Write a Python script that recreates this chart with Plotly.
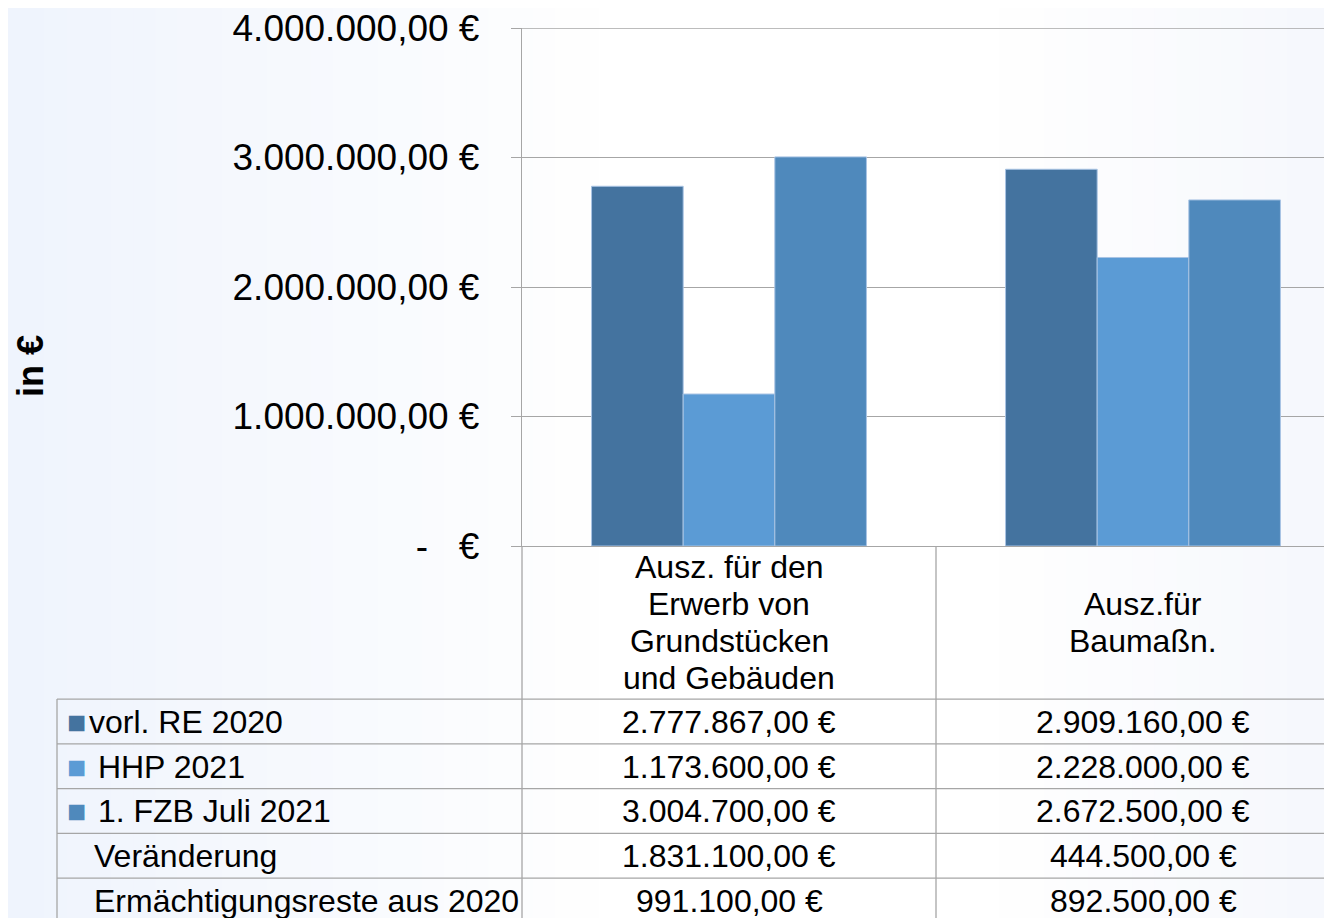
import numpy as np
import plotly.graph_objects as go

# data
categories = ["Ausz. für den\nErwerb von\nGrundstücken\nund Gebäuden", "Ausz.für\nBaumaßn."]
series_names = ["vorl. RE 2020", " HHP 2021", " 1. FZB Juli 2021"]
vorl_re_2020 = [2777867.00, 2909160.00]
hhp_2021 = [1173600.00, 2228000.00]
fzb_juli_2021 = [3004700.00, 2672500.00]
extra_row_names = ["Veränderung", "Ermächtigungsreste aus 2020"]
veraenderung = [1831100.00, 444500.00]
ermaechtigungsreste = [991100.00, 892500.00]
y_tickvals = [0, 1000000, 2000000, 3000000, 4000000]
y_ticktext = ["-\u00a0\u00a0\u00a0€", "1.000.000,00 €", "2.000.000,00 €", "3.000.000,00 €", "4.000.000,00 €"]

colors = ["#44739F", "#5B9BD5", "#4F89BC"]
FONT = "Liberation Sans, Arial, sans-serif"

# page body has an 8px margin, so the figure is made smaller and shifted
OFF = 8
W, H = 1332 - OFF, 918 - OFF
L, R, T, B = 522 - OFF, 0, 25 - OFF, 372
PW, PH = W - L - R, H - T - B


def px(x):
    # screen x -> paper x
    return (x - OFF - L) / PW


def py(y):
    # screen y -> paper y
    return (H - B - (y - OFF)) / PH


def euro(v):
    s = f"{v:,.2f}".replace(",", "X").replace(".", ",").replace("X", ".")
    return s + " €"


fig = go.Figure()
for name, vals, col in zip(series_names, [vorl_re_2020, hhp_2021, fzb_juli_2021], colors):
    fig.add_trace(go.Bar(x=categories, y=vals, name=name.strip(),
                         marker=dict(color=col, line=dict(color="#A9C4E4", width=1))))

shapes = []
# soft background gradient
edges = np.linspace(0, 1332, 61)
for a, b in zip(edges[:-1], edges[1:]):
    m = (a + b) / 2
    if m < 600:
        t = 1 - m / 600
        c = (int(255 - 16 * t), int(255 - 11 * t), int(255 - 2 * t))
    elif m > 1000:
        t = (m - 1000) / 332
        c = (int(255 - 9 * t), int(255 - 7 * t), int(255 - 2 * t))
    else:
        c = (255, 255, 255)
    shapes.append(dict(type="rect", xref="paper", yref="paper", x0=px(a), x1=px(b) + 0.002,
                       y0=py(930), y1=py(0), fillcolor=f"rgb{c}", line=dict(width=0), layer="below"))

grey = "#A6A6A6"
# top gridline (plotly skips the one at the range edge)
shapes.append(dict(type="line", xref="paper", yref="y", x0=0, x1=1,
                   y0=y_tickvals[-1], y1=y_tickvals[-1], line=dict(color=grey, width=1.3)))
row_lines = [700, 745, 790, 835, 880]
for yy in row_lines:
    shapes.append(dict(type="line", xref="paper", yref="paper", x0=px(57), x1=px(1340),
                       y0=py(yy), y1=py(yy), line=dict(color=grey, width=1.3)))
for xx, ytop in [(57, 700), (522, 546), (936, 546)]:
    shapes.append(dict(type="line", xref="paper", yref="paper", x0=px(xx), x1=px(xx),
                       y0=py(ytop), y1=py(930), line=dict(color=grey, width=1.3)))

annotations = []
# category header cells
for cat in categories:
    lines = cat.split("\n")
    n = len(lines)
    for i, ln in enumerate(lines):
        yc = 623 + (i - (n - 1) / 2) * 37
        annotations.append(dict(x=cat, xref="x", y=py(yc), yref="paper", text=ln, showarrow=False,
                                xanchor="center", yanchor="middle", font=dict(size=32, color="black")))

rows = list(zip(series_names, [vorl_re_2020, hhp_2021, fzb_juli_2021], colors)) + \
    [(n, v, None) for n, v in zip(extra_row_names, [veraenderung, ermaechtigungsreste])]
for r, (name, vals, col) in enumerate(rows):
    yc = 723 + r * 45
    if col:
        label = f"<span style='color:{col}'>■</span>\u200a{name}"
        x0 = 65
    else:
        label = name
        x0 = 92
    annotations.append(dict(x=px(x0), xref="paper", y=py(yc), yref="paper", text=label,
                            showarrow=False, xanchor="left", yanchor="middle",
                            font=dict(size=32, color="black")))
    for cat, v in zip(categories, vals):
        annotations.append(dict(x=cat, xref="x", y=py(yc), yref="paper", text=euro(v),
                                showarrow=False, xanchor="center", yanchor="middle",
                                font=dict(size=32, color="black")))

annotations.append(dict(x=px(30), xref="paper", y=py(365), yref="paper", text="<b>in €</b>",
                        textangle=-90, showarrow=False, xanchor="center", yanchor="middle",
                        font=dict(size=36, color="black")))

fig.update_layout(
    width=W, height=H,
    margin=dict(l=L, r=R, t=T, b=B, pad=0),
    paper_bgcolor="rgba(0,0,0,0)", plot_bgcolor="rgba(0,0,0,0)",
    font=dict(family=FONT, color="black"),
    showlegend=False,
    barmode="group", bargap=0.336, bargroupgap=0,
    xaxis=dict(type="category", range=[-0.5, -0.5 + PW / 414], showgrid=False,
               showticklabels=False, ticks="", showline=True, linecolor=grey, linewidth=1.3,
               fixedrange=True),
    yaxis=dict(range=[0, 4000000], tickvals=y_tickvals, ticktext=y_ticktext,
               tickfont=dict(size=37, color="black"), ticks="outside", ticklen=10,
               tickcolor=grey, tickwidth=1.3, ticklabelstandoff=24, ticklabeloverflow="allow",
               showline=True, linecolor=grey, linewidth=1.3,
               showgrid=True, gridcolor=grey, gridwidth=1.3, zeroline=False),
    shapes=shapes,
    annotations=annotations,
)

fig.write_html("out.html")
